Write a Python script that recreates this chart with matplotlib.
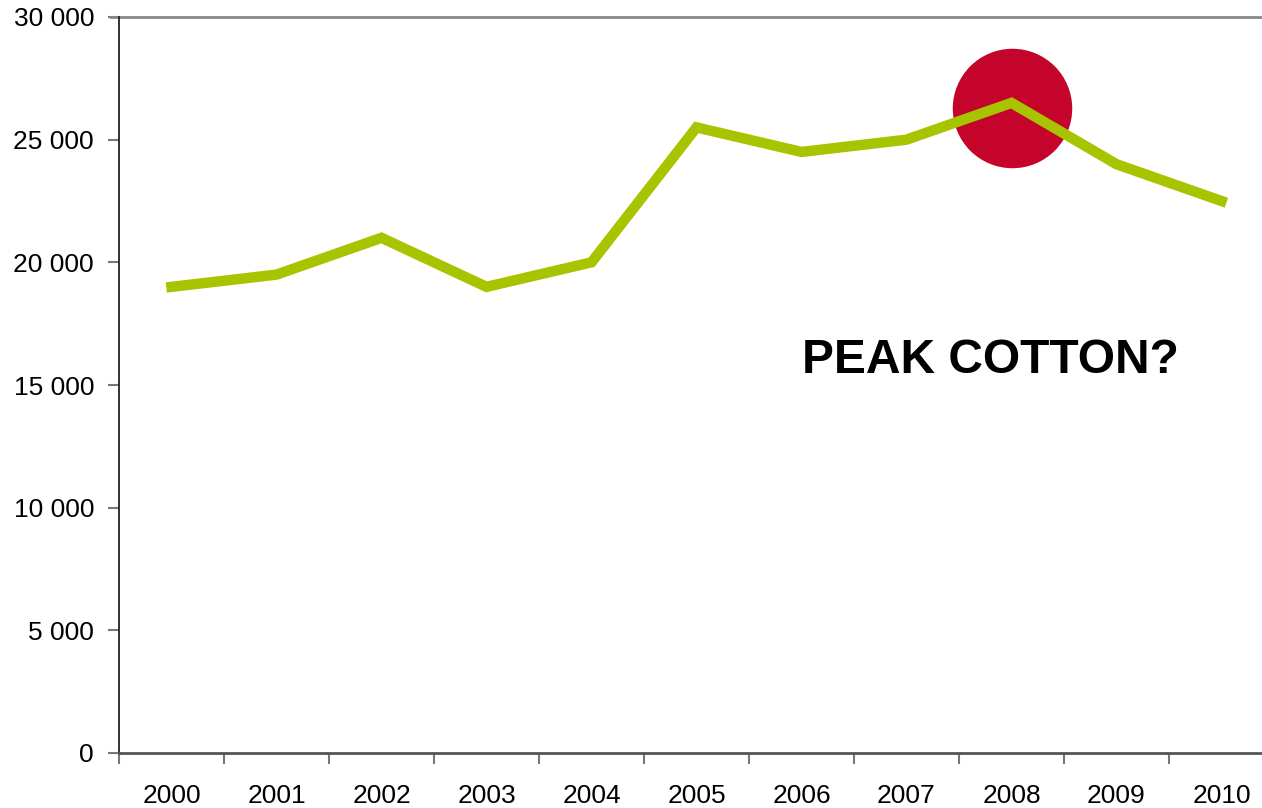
import numpy as np
import matplotlib.pyplot as plt

years = ['2000', '2001', '2002', '2003', '2004', '2005',
         '2006', '2007', '2008', '2009', '2010']
values = [19000, 19500, 21000, 19000, 20000, 25500,
          24500, 25000, 26500, 24000, 22500]
yticks = [0, 5000, 10000, 15000, 20000, 25000, 30000]
peak_idx = 8
peak_y = 26300

plt.rcParams['font.family'] = ['Liberation Sans', 'DejaVu Sans']

fig = plt.figure(figsize=(12.62, 8.08), dpi=100)
# axes runs past the right edge like the original crop
ax = fig.add_axes([119 / 1262, 1 - 753 / 808, 1155 / 1262, 736 / 808])

x = np.arange(len(years))
ax.scatter([x[peak_idx]], [peak_y], s=7400, color='#C4042A', zorder=2, linewidths=0)
ax.plot(x, values, color='#A8C400', lw=7.5, solid_joinstyle='miter', zorder=3)

ax.set_xlim(-0.5, len(years) - 0.5)
ax.set_ylim(0, 30000)

ax.set_yticks(yticks)
ax.set_yticklabels([f'{v:,}'.replace(',', ' ') for v in yticks], fontsize=19)
ax.set_xticks(x)
ax.set_xticklabels(years, fontsize=19)
ax.set_xticks(np.arange(len(years) + 1) - 0.5, minor=True)
ax.tick_params(axis='x', which='major', length=0, pad=22)
ax.tick_params(axis='x', which='minor', length=8, width=1.5, color='#777777', direction='out')
ax.tick_params(axis='y', length=8, width=1.5, color='#777777', pad=10, direction='out')

ax.axhline(30000, color='#888888', lw=2, xmin=-0.007, clip_on=False)
for s in ['top', 'right']:
    ax.spines[s].set_visible(False)
ax.spines['left'].set_color('#222222')
ax.spines['left'].set_linewidth(1.3)
ax.spines['bottom'].set_color('#555555')
ax.spines['bottom'].set_linewidth(2)

ax.text(7.8, 16000, 'PEAK COTTON?', fontsize=34.5, fontweight='bold', ha='center', va='center')

fig.savefig('out.png', dpi=100)
